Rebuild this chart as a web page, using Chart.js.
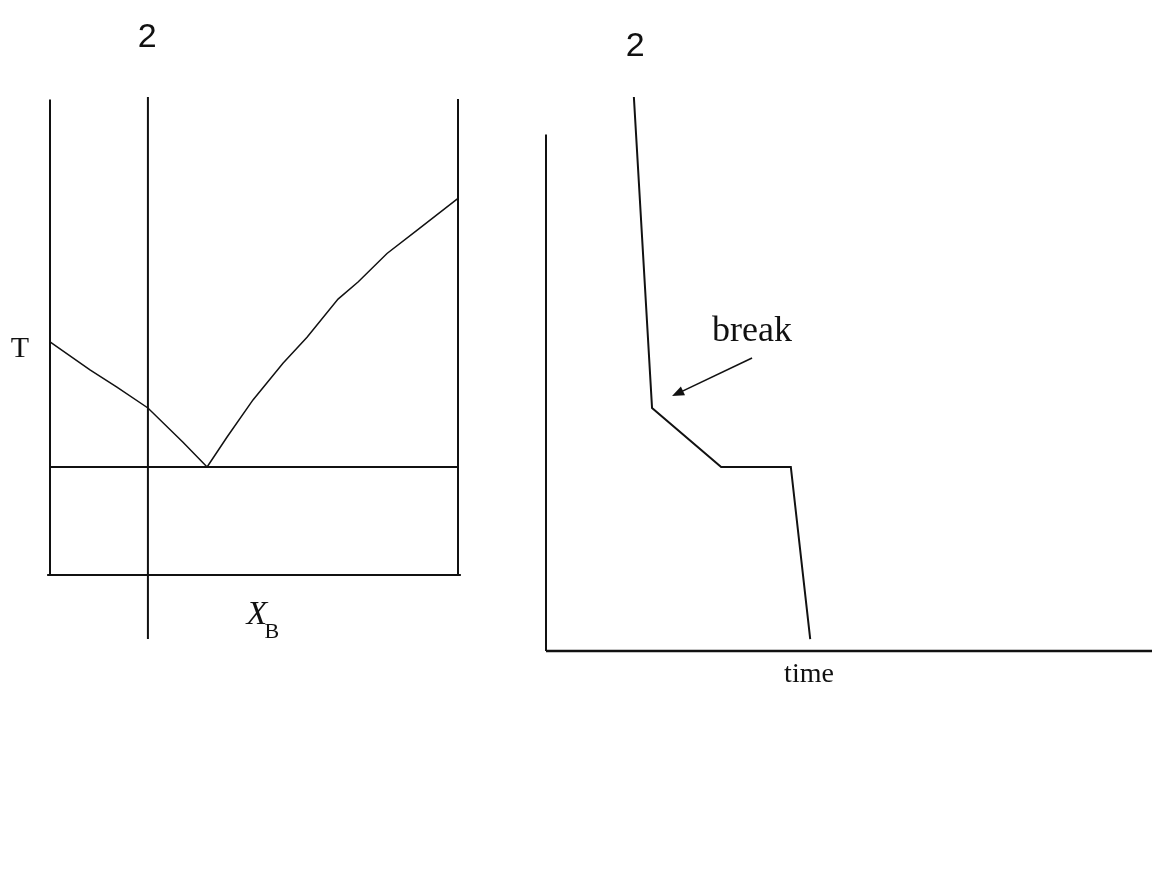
<!DOCTYPE html>
<html>
<head>
<meta charset="utf-8">
<script src="https://cdn.jsdelivr.net/npm/chart.js@4/dist/chart.umd.min.js"></script>
<style>
  body { margin: 0; background: #fff; }
  #wrap { position: relative; width: 1152px; height: 869px; overflow: hidden; }
  #phaseChart { position: absolute; left: 0; top: 0; }
  #coolChart { position: absolute; left: 520px; top: 0; }
</style>
</head>
<body>
<div id="wrap">
  <canvas id="phaseChart" width="520" height="700"></canvas>
  <canvas id="coolChart" width="632" height="700"></canvas>
</div>
<script>
// shared temperature range (both panels use the same T scale)
const T_MIN = -16;
const T_MAX = 100.5;

// --- phase diagram (T vs X_B) ---
const isoComp = 0.24;           // composition of melt "2"
const eutecticT = 22.7;
const liquidusA = [[0, 49], [0.098, 43.1], [0.164, 39.5], [0.24, 35.1], [0.326, 27.9], [0.385, 22.7]];
const liquidusB = [[0.385, 22.7], [0.434, 29], [0.4975, 36.8], [0.571, 44.5], [0.63, 50], [0.706, 58],
                   [0.755, 61.6], [0.826, 67.6], [0.9, 72.5], [1, 79.2]];
const wallA = [[0, 0], [0, 100]];
const wallB = [[1, 0], [1, 100.1]];
const baseLine = [[-0.007, 0], [1.007, 0]];
const eutecticLine = [[0, eutecticT], [1, eutecticT]];
const isopleth = [[isoComp, 100.5], [isoComp, -13.5]];

// --- cooling curve (T vs time) ---
const coolCurve = [[14.5, 100.5], [17.5, 35.1], [28.9, 22.7], [40.4, 22.7], [43.6, -13.5]];
const timeAxis = [[0, T_MIN], [100, T_MIN]];
const tempAxis = [[0, 92.6], [0, T_MIN]];
const breakArrow = [[34, 45.6], [20.8, 37.6]];

// labels: text + data position
const phaseLabels = [
  { text: '2', at: [0.238, 113.0], font: '34px "Liberation Sans"' },
  { text: 'T', at: [-0.074, 47.4], font: '30px "Liberation Serif"' },
  { text: 'X', at: [0.507, -8.4], font: 'italic 34px "Liberation Serif"' },
  { text: 'B', at: [0.544, -12], font: '22px "Liberation Serif"' }
];
const coolLabels = [
  { text: '2', at: [14.7, 111.1], font: '34px "Liberation Sans"' },
  { text: 'break', at: [34, 51.1], font: '36px "Liberation Serif"' },
  { text: 'time', at: [43.4, -20.9], font: '28px "Liberation Serif"' }
];

const INK = '#111';

// draws text notes and the arrow in data coordinates
const notesPlugin = {
  id: 'notes',
  afterDatasetsDraw(chart, args, opts) {
    const { ctx, scales: { x, y } } = chart;
    ctx.save();
    ctx.fillStyle = INK;
    ctx.textAlign = 'center';
    ctx.textBaseline = 'middle';
    (opts.items || []).forEach(n => {
      ctx.font = n.font;
      ctx.fillText(n.text, x.getPixelForValue(n.at[0]), y.getPixelForValue(n.at[1]));
    });
    if (opts.arrow) {
      const [p0, p1] = opts.arrow;
      const x0 = x.getPixelForValue(p0[0]), y0 = y.getPixelForValue(p0[1]);
      const x1 = x.getPixelForValue(p1[0]), y1 = y.getPixelForValue(p1[1]);
      const ang = Math.atan2(y1 - y0, x1 - x0);
      const len = 13, wing = 0.38;
      ctx.strokeStyle = INK;
      ctx.lineWidth = 1.6;
      ctx.beginPath();
      ctx.moveTo(x0, y0);
      ctx.lineTo(x1 - Math.cos(ang) * len * 0.8, y1 - Math.sin(ang) * len * 0.8);
      ctx.stroke();
      ctx.beginPath();
      ctx.moveTo(x1, y1);
      ctx.lineTo(x1 - len * Math.cos(ang - wing), y1 - len * Math.sin(ang - wing));
      ctx.lineTo(x1 - len * Math.cos(ang + wing), y1 - len * Math.sin(ang + wing));
      ctx.closePath();
      ctx.fill();
    }
    ctx.restore();
  }
};

const toPts = arr => arr.map(([x, y]) => ({ x, y }));

const lineSet = (pts, width) => ({
  data: toPts(pts),
  showLine: true,
  borderColor: INK,
  borderWidth: width,
  pointRadius: 0,
  tension: 0,
  clip: false
});

const baseOptions = (xMin, xMax, padding, notes) => ({
  responsive: false,
  animation: false,
  layout: { padding },
  plugins: { legend: { display: false }, tooltip: { enabled: false }, notes },
  scales: {
    x: { type: 'linear', display: false, min: xMin, max: xMax },
    y: { type: 'linear', display: false, min: T_MIN, max: T_MAX }
  }
});

new Chart(document.getElementById('phaseChart'), {
  type: 'scatter',
  data: {
    datasets: [
      lineSet(wallA, 2), lineSet(wallB, 2), lineSet(baseLine, 2),
      lineSet(eutecticLine, 2), lineSet(isopleth, 2),
      lineSet(liquidusA, 1.5), lineSet(liquidusB, 1.5)
    ]
  },
  options: baseOptions(0, 1, { left: 50, right: 62, top: 97, bottom: 49 }, { items: phaseLabels }),
  plugins: [notesPlugin]
});

new Chart(document.getElementById('coolChart'), {
  type: 'scatter',
  data: {
    datasets: [
      lineSet(tempAxis, 2), lineSet(timeAxis, 2.5),
      lineSet(coolCurve, 2)
    ]
  },
  options: baseOptions(0, 100, { left: 26, right: 0, top: 97, bottom: 49 }, { items: coolLabels, arrow: breakArrow }),
  plugins: [notesPlugin]
});
</script>
</body>
</html>
